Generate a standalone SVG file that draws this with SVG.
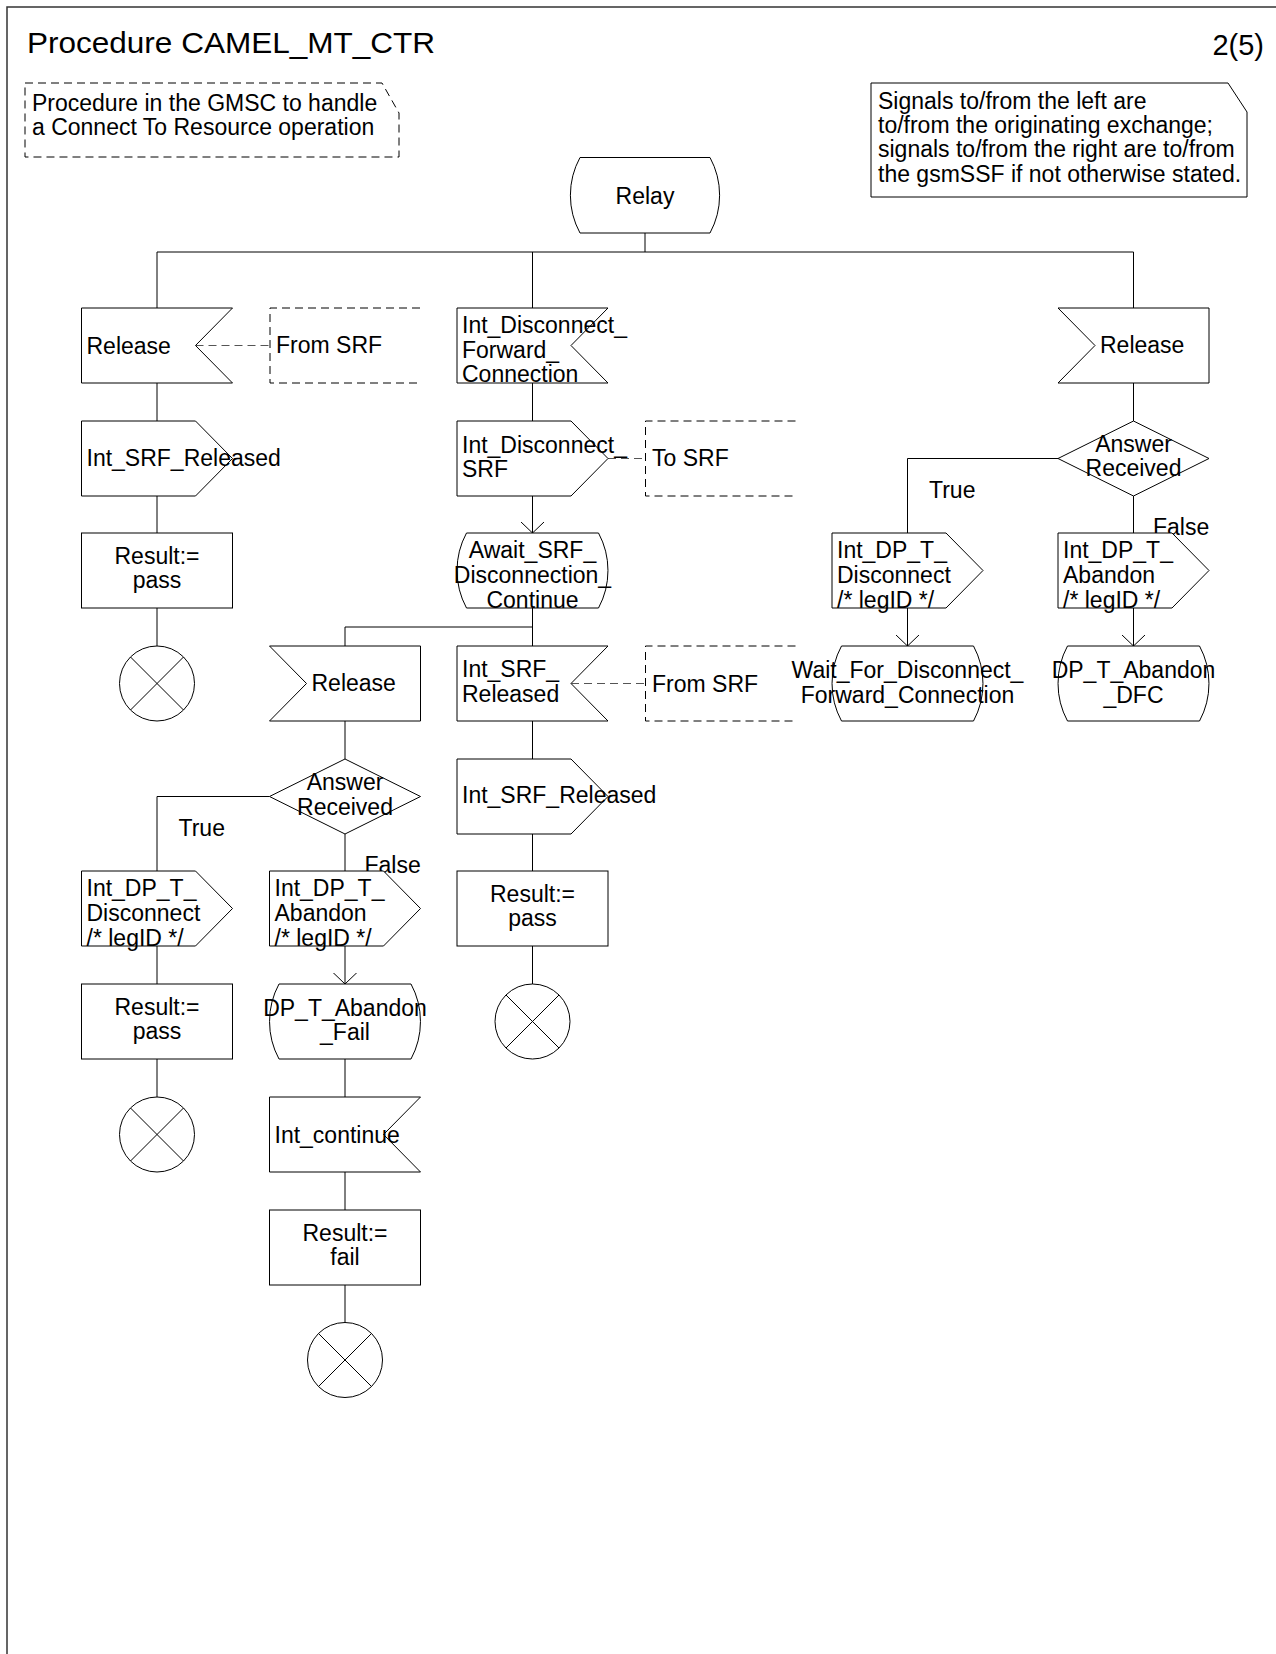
<svg xmlns="http://www.w3.org/2000/svg" width="1276" height="1654" viewBox="0 0 1276 1654">
<defs>
<style>
.s{fill:#fff;stroke:#000;stroke-width:1}
.c{fill:none;stroke:#000;stroke-width:1}
.d{fill:none;stroke:#000;stroke-width:1;stroke-dasharray:8,5}
.dg{fill:none;stroke:#555;stroke-width:1;stroke-dasharray:8,5}
text{font-family:"Liberation Sans",Arial,sans-serif;font-size:23px;fill:#000}
.m{text-anchor:middle}
.ti{font-size:29px}
</style>
<marker id="arr" viewBox="0 0 12 24" refX="11.5" refY="12" markerWidth="12" markerHeight="24" markerUnits="userSpaceOnUse" orient="auto">
<path d="M0,0 L11.5,12 L0,24" fill="none" stroke="#000" stroke-width="1"/>
</marker>
</defs>
<rect width="1276" height="1654" fill="#fff"/>
<path d="M7,1654 V7 H1276" fill="none" stroke="#333" stroke-width="1.5"/>
<text class="ti" x="27" y="53" textLength="408" lengthAdjust="spacingAndGlyphs">Procedure CAMEL_MT_CTR</text>
<text class="ti" x="1264" y="55" text-anchor="end">2(5)</text>

<g id="comment">
<path class="d" d="M25,83 H382 L399,113 V157 H25 Z"/>
<text x="32" y="111">Procedure in the GMSC to handle</text>
<text x="32" y="135">a Connect To Resource operation</text>
</g>
<g id="note">
<path class="s" d="M871,83 H1228 L1247,112 V197 H871 Z"/>
<text x="878" y="109">Signals to/from the left are</text>
<text x="878" y="133">to/from the originating exchange;</text>
<text x="878" y="157">signals to/from the right are to/from</text>
<text x="878" y="181.5">the gsmSSF if not otherwise stated.</text>
</g>

<g id="connectors">
<path class="c" d="M645,233 V252 M157,252 H1133.5 M157,252 V308 M532.5,252 V308 M1133.5,252 V308"/>
<path class="c" d="M157,383 V421 M157,496 V533 M157,608 V646"/>
<path class="c" d="M532.5,383 V421"/>
<path class="c" d="M532.5,496 V533" marker-end="url(#arr)"/>
<path class="c" d="M532.5,608 V646 M532.5,627 H345 V646"/>
<path class="c" d="M532.5,721 V759 M532.5,834 V871 M532.5,946 V984"/>
<path class="c" d="M345,721 V759 M269.5,796.5 H157 V871 M345,834 V871"/>
<path class="c" d="M157,946 V984 M157,1059 V1097"/>
<path class="c" d="M345,946 V984" marker-end="url(#arr)"/>
<path class="c" d="M345,1059 V1097 M345,1172 V1210 M345,1285 V1322.5"/>
<path class="c" d="M1133.5,383 V421 M1058,458.5 H907.5 V533 M1133.5,496 V533"/>
<path class="c" d="M907.5,608 V646" marker-end="url(#arr)"/>
<path class="c" d="M1133.5,608 V646" marker-end="url(#arr)"/>
<path class="dg" d="M195.5,345.5 H270 M608,458.5 H645.5 M571,683.5 H645.5"/>
<text x="178.5" y="836">True</text>
<text x="364.5" y="873">False</text>
<text x="929" y="498">True</text>
<text x="1153" y="535">False</text>
</g>

<g id="relay">
<path class="s" d="M580,157.5 H710 A79,79 0 0 1 710,233 H580 A79,79 0 0 1 580,157.5 Z"/>
<text class="m" x="645" y="203.5">Relay</text>
</g>

<g id="release1">
<path class="s" d="M81.5,308 H232.5 L195.5,345.5 L232.5,383 H81.5 Z"/>
<text x="86.5" y="353.5">Release</text>
</g>
<g id="fromsrf1">
<path class="d" d="M420,308 H270 V383 H420"/>
<text x="276" y="353">From SRF</text>
</g>
<g id="intsrfrel1">
<path class="s" d="M81.5,421 H195.5 L232.5,458.5 L195.5,496 H81.5 Z"/>
<text x="86.5" y="466">Int_SRF_Released</text>
</g>
<g id="pass1">
<rect class="s" x="81.5" y="533" width="151" height="75"/>
<text class="m" x="157" y="563.5">Result:=</text>
<text class="m" x="157" y="588">pass</text>
</g>
<g id="stop1">
<circle class="s" cx="157" cy="683.5" r="37.5"/>
<path class="c" d="M130.5,657 L183.5,710 M183.5,657 L130.5,710"/>
</g>

<g id="intdiscfwd">
<path class="s" d="M457,308 H608 L571,345.5 L608,383 H457 Z"/>
<text x="462" y="333">Int_Disconnect_</text>
<text x="462" y="357.5">Forward_</text>
<text x="462" y="382">Connection</text>
</g>
<g id="intdiscsrf">
<path class="s" d="M457,421 H571 L608,458.5 L571,496 H457 Z"/>
<text x="462" y="452.5">Int_Disconnect_</text>
<text x="462" y="477">SRF</text>
</g>
<g id="tosrf">
<path class="d" d="M795.5,421 H645.5 V496 H795.5"/>
<text x="652" y="466">To SRF</text>
</g>
<g id="await">
<path class="s" d="M466.5,533 H598.5 A79,79 0 0 1 598.5,608 H466.5 A79,79 0 0 1 466.5,533 Z"/>
<text class="m" x="532.5" y="558">Await_SRF_</text>
<text class="m" x="532.5" y="583">Disconnection_</text>
<text class="m" x="532.5" y="608">Continue</text>
</g>
<g id="intsrfrelin">
<path class="s" d="M457,646 H608 L571,683.5 L608,721 H457 Z"/>
<text x="462" y="677">Int_SRF_</text>
<text x="462" y="702">Released</text>
</g>
<g id="fromsrf2">
<path class="d" d="M795.5,646 H645.5 V721 H795.5"/>
<text x="652" y="691.5">From SRF</text>
</g>
<g id="intsrfrelout">
<path class="s" d="M457,759 H571 L608,796.5 L571,834 H457 Z"/>
<text x="462" y="803">Int_SRF_Released</text>
</g>
<g id="pass2">
<rect class="s" x="457" y="871" width="151" height="75"/>
<text class="m" x="532.5" y="901.5">Result:=</text>
<text class="m" x="532.5" y="926">pass</text>
</g>
<g id="stop2">
<circle class="s" cx="532.5" cy="1021.5" r="37.5"/>
<path class="c" d="M506,995 L559,1048 M559,995 L506,1048"/>
</g>

<g id="release2">
<path class="s" d="M269.5,646 H420.5 V721 H269.5 L306.5,683.5 Z"/>
<text x="311.5" y="691">Release</text>
</g>
<g id="answer2">
<path class="s" d="M345,759 L420.5,796.5 L345,834 L269.5,796.5 Z"/>
<text class="m" x="345" y="789.5">Answer</text>
<text class="m" x="345" y="814.5">Received</text>
</g>
<g id="dpdisc2">
<path class="s" d="M81.5,871 H195.5 L232.5,908.5 L195.5,946 H81.5 Z"/>
<text x="86.5" y="896">Int_DP_T_</text>
<text x="86.5" y="921">Disconnect</text>
<text x="86.5" y="946">/* legID */</text>
</g>
<g id="dpaband2">
<path class="s" d="M269.5,871 H383.5 L420.5,908.5 L383.5,946 H269.5 Z"/>
<text x="274.5" y="896">Int_DP_T_</text>
<text x="274.5" y="921">Abandon</text>
<text x="274.5" y="946">/* legID */</text>
</g>
<g id="pass3">
<rect class="s" x="81.5" y="984" width="151" height="75"/>
<text class="m" x="157" y="1014.5">Result:=</text>
<text class="m" x="157" y="1039">pass</text>
</g>
<g id="stop3">
<circle class="s" cx="157" cy="1134.5" r="37.5"/>
<path class="c" d="M130.5,1108 L183.5,1161 M183.5,1108 L130.5,1161"/>
</g>
<g id="abandonfail">
<path class="s" d="M279,984 H411 A79,79 0 0 1 411,1059 H279 A79,79 0 0 1 279,984 Z"/>
<text class="m" x="345" y="1015.5">DP_T_Abandon</text>
<text class="m" x="345" y="1040">_Fail</text>
</g>
<g id="intcontinue">
<path class="s" d="M269.5,1097 H420.5 L383.5,1134.5 L420.5,1172 H269.5 Z"/>
<text x="274.5" y="1142.5">Int_continue</text>
</g>
<g id="fail">
<rect class="s" x="269.5" y="1210" width="151" height="75"/>
<text class="m" x="345" y="1240.5">Result:=</text>
<text class="m" x="345" y="1265">fail</text>
</g>
<g id="stop4">
<circle class="s" cx="345" cy="1360" r="37.5"/>
<path class="c" d="M318.5,1333.5 L371.5,1386.5 M371.5,1333.5 L318.5,1386.5"/>
</g>

<g id="release3">
<path class="s" d="M1058,308 H1209 V383 H1058 L1095,345.5 Z"/>
<text x="1100" y="353">Release</text>
</g>
<g id="answer3">
<path class="s" d="M1133.5,421 L1209,458.5 L1133.5,496 L1058,458.5 Z"/>
<text class="m" x="1133.5" y="451.5">Answer</text>
<text class="m" x="1133.5" y="476">Received</text>
</g>
<g id="dpdisc3">
<path class="s" d="M832,533 H946 L983,570.5 L946,608 H832 Z"/>
<text x="837" y="558">Int_DP_T_</text>
<text x="837" y="583">Disconnect</text>
<text x="837" y="608">/* legID */</text>
</g>
<g id="dpaband3">
<path class="s" d="M1058,533 H1172 L1209,570.5 L1172,608 H1058 Z"/>
<text x="1063" y="558">Int_DP_T_</text>
<text x="1063" y="583">Abandon</text>
<text x="1063" y="608">/* legID */</text>
</g>
<g id="waitdfc">
<path class="s" d="M841.5,646 H973.5 A79,79 0 0 1 973.5,721 H841.5 A79,79 0 0 1 841.5,646 Z"/>
<text class="m" x="907.5" y="678">Wait_For_Disconnect_</text>
<text class="m" x="907.5" y="703">Forward_Connection</text>
</g>
<g id="abandondfc">
<path class="s" d="M1067.5,646 H1199.5 A79,79 0 0 1 1199.5,721 H1067.5 A79,79 0 0 1 1067.5,646 Z"/>
<text class="m" x="1133.5" y="678">DP_T_Abandon</text>
<text class="m" x="1133.5" y="703">_DFC</text>
</g>
</svg>
